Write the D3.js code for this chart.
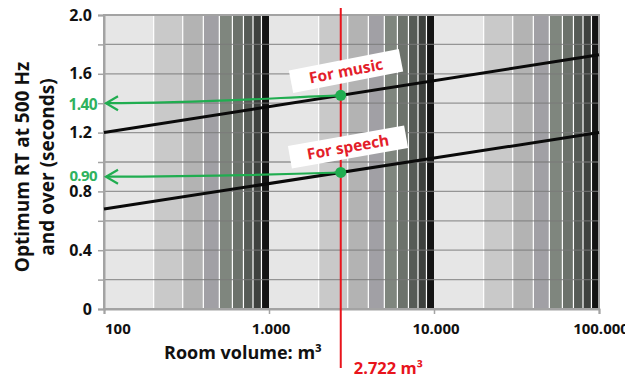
<!DOCTYPE html>
<html><head><meta charset="utf-8">
<script src="https://cdn.jsdelivr.net/npm/d3@7"></script>
<style>body{margin:0;background:#fff}svg{display:block;font-family:"Open Sans",sans-serif}</style>
</head><body><svg id="c" width="625" height="379"></svg>
<script>
// Data
const xDomain = [100, 100000];
const yDomain = [0, 2.0];
const xTickValues = [100, 1000, 10000, 100000];
const xTickLabels = ["100", "1.000", "10.000", "100.000"];
const yTickValues = [0, 0.4, 0.8, 1.2, 1.6, 2.0];
const yTickLabels = ["0", "0.4", "0.8", "1.2", "1.6", "2.0"];
const yGridValues = [0.2, 0.4, 0.6, 0.8, 1.0, 1.2, 1.4, 1.6, 1.8];
const seriesNames = ["For music", "For speech"];
const seriesStartRT = [1.2, 0.68];   // at 100 m³
const seriesEndRT = [1.73, 1.2];     // at 100.000 m³
const roomVolume = 2722;
const readValues = [1.40, 0.90];
const readLabels = ["1.40", "0.90"];
const bandMultipliers = [1, 2, 3, 4, 5, 6, 7, 8, 9];
const bandColors = ["#e6e6e6", "#c9c9c9", "#b3b3b3", "#a1a0a5", "#7f867e", "#6c726b", "#565b56", "#3e413e", "#141414"];

const svg = d3.select("#c");
const L = 104, R = 599, T = 15, B = 309;
const x = d3.scaleLog().domain(xDomain).range([L, R]);
const y = d3.scaleLinear().domain(yDomain).range([B, T]);

// vertical bands
const bands = [];
[100, 1000, 10000].forEach(dec => bandMultipliers.forEach((m, i) => bands.push({x0: dec * m, x1: dec * (m + 1), c: bandColors[i], i})));
svg.append("g").selectAll("rect").data(bands).join("rect")
  .attr("x", d => x(d.x0)).attr("width", d => x(d.x1) - x(d.x0))
  .attr("y", T).attr("height", B - T).attr("fill", d => d.c);
// white separators
svg.append("g").selectAll("line").data(bands.filter(d => d.i > 0)).join("line")
  .attr("x1", d => x(d.x0)).attr("x2", d => x(d.x0)).attr("y1", T).attr("y2", B)
  .attr("stroke", "#fff").attr("stroke-width", 1.2);

// horizontal grid
svg.append("g").selectAll("line").data(yGridValues).join("line")
  .attr("x1", L).attr("x2", R).attr("y1", d => y(d)).attr("y2", d => y(d))
  .attr("stroke", "#7a7a7a").attr("stroke-opacity", 0.75).attr("stroke-width", 1.3);

// frame
svg.append("rect").attr("x", L).attr("y", T).attr("width", R - L).attr("height", B - T)
  .attr("fill", "none").attr("stroke", "#a3a3a3").attr("stroke-width", 2);

// axes
const yAxis = d3.axisLeft(y).tickValues(d3.range(0, 2.01, 0.2)).tickSize(6).tickFormat("");
const gy = svg.append("g").attr("transform", `translate(${L},0)`).call(yAxis);
gy.select(".domain").attr("stroke", "#a3a3a3").attr("stroke-width", 2);
gy.selectAll(".tick line").attr("stroke", "#a3a3a3").attr("stroke-width", 1.5);
const xAxis = d3.axisBottom(x).tickValues(xTickValues).tickSize(5).tickFormat("");
const gx = svg.append("g").attr("transform", `translate(0,${B})`).call(xAxis);
gx.select(".domain").attr("stroke", "#a3a3a3").attr("stroke-width", 2);
gx.selectAll(".tick line").attr("stroke", "#a3a3a3").attr("stroke-width", 1.5);

// y tick labels
svg.append("g").selectAll("text").data(yTickValues).join("text")
  .attr("x", 92).attr("y", d => y(d) + 5.5).attr("text-anchor", "end")
  .attr("font-size", 16).attr("font-weight", "bold").attr("fill", "#111")
  .text((d, i) => yTickLabels[i]);
// x tick labels
svg.append("g").selectAll("text").data(xTickValues).join("text")
  .attr("x", (d, i) => i === 0 ? x(d) + 1 : x(d) + 2).attr("y", 334)
  .attr("text-anchor", (d, i) => i === 0 ? "start" : "middle")
  .attr("font-size", 15).attr("font-weight", "bold").attr("fill", "#111")
  .text((d, i) => xTickLabels[i]);

// titles
svg.append("text").attr("x", 243).attr("y", 359).attr("text-anchor", "middle")
  .attr("font-size", 18).attr("font-weight", "bold").attr("fill", "#111").text("Room volume: m³");
const yt = svg.append("text").attr("transform", "translate(29,167) rotate(-90)")
  .attr("text-anchor", "middle").attr("font-size", 19).attr("font-weight", "bold").attr("fill", "#111");
yt.append("tspan").attr("x", 0).attr("dy", 0).text("Optimum RT at 500 Hz");
yt.append("tspan").attr("x", 0).attr("dy", 25).text("and over (seconds)");

// series lines
const lineGen = d3.line().x(d => x(d[0])).y(d => y(d[1]));
seriesNames.forEach((n, i) => {
  svg.append("path").datum([[xDomain[0], seriesStartRT[i]], [xDomain[1], seriesEndRT[i]]])
    .attr("d", lineGen).attr("stroke", "#0a0a0a").attr("stroke-width", 3).attr("fill", "none");
});

// red vertical line
const rx = x(roomVolume);
svg.append("line").attr("x1", rx).attr("x2", rx).attr("y1", 8).attr("y2", 368)
  .attr("stroke", "#e8141c").attr("stroke-width", 2);
svg.append("text").attr("x", rx + 13).attr("y", 374).attr("font-size", 16.5).attr("font-weight", "bold")
  .attr("fill", "#e8141c").text("2.722 m³");

// green arrows and markers
const green = "#20ad50";
const frac = (Math.log10(roomVolume) - Math.log10(xDomain[0])) / (Math.log10(xDomain[1]) - Math.log10(xDomain[0]));
seriesNames.forEach((n, i) => {
  const v = seriesStartRT[i] + (seriesEndRT[i] - seriesStartRT[i]) * frac;
  const px = rx, py = y(v);
  const ty = y(readValues[i]);
  svg.append("path").attr("d", `M${px},${py} C${px - 60},${py + 2} ${L + 100},${ty} ${L + 2},${ty}`)
    .attr("stroke", green).attr("stroke-width", 2.2).attr("fill", "none");
  svg.append("path").attr("d", `M${L + 14},${ty - 7} L${L + 2},${ty} L${L + 14},${ty + 7}`)
    .attr("stroke", green).attr("stroke-width", 2.2).attr("fill", "none");
  svg.append("circle").attr("cx", px).attr("cy", py).attr("r", 5.5).attr("fill", green);
  svg.append("text").attr("x", 97).attr("y", ty + (i === 1 ? 4 : 7)).attr("text-anchor", "end")
    .attr("font-size", i === 1 ? 15 : 15.5).attr("font-weight", "bold").attr("fill", "#2fb25e")
    .attr("letter-spacing", -0.6).text(readLabels[i]);
});

// labels in rotated white boxes
const labelPos = [[346, 71, -11, 112], [348, 147, -10, 118]];
seriesNames.forEach((n, i) => {
  const [cx, cy, a, w] = labelPos[i];
  const g = svg.append("g").attr("transform", `translate(${cx},${cy}) rotate(${a})`);
  g.append("rect").attr("x", -w / 2).attr("y", -11.5).attr("width", w).attr("height", 23).attr("fill", "#fff");
  g.append("text").attr("x", 0).attr("y", 5.5).attr("text-anchor", "middle")
    .attr("font-size", 15.5).attr("font-weight", "bold").attr("fill", "#e3202a").text(n);
});
</script></body></html>
